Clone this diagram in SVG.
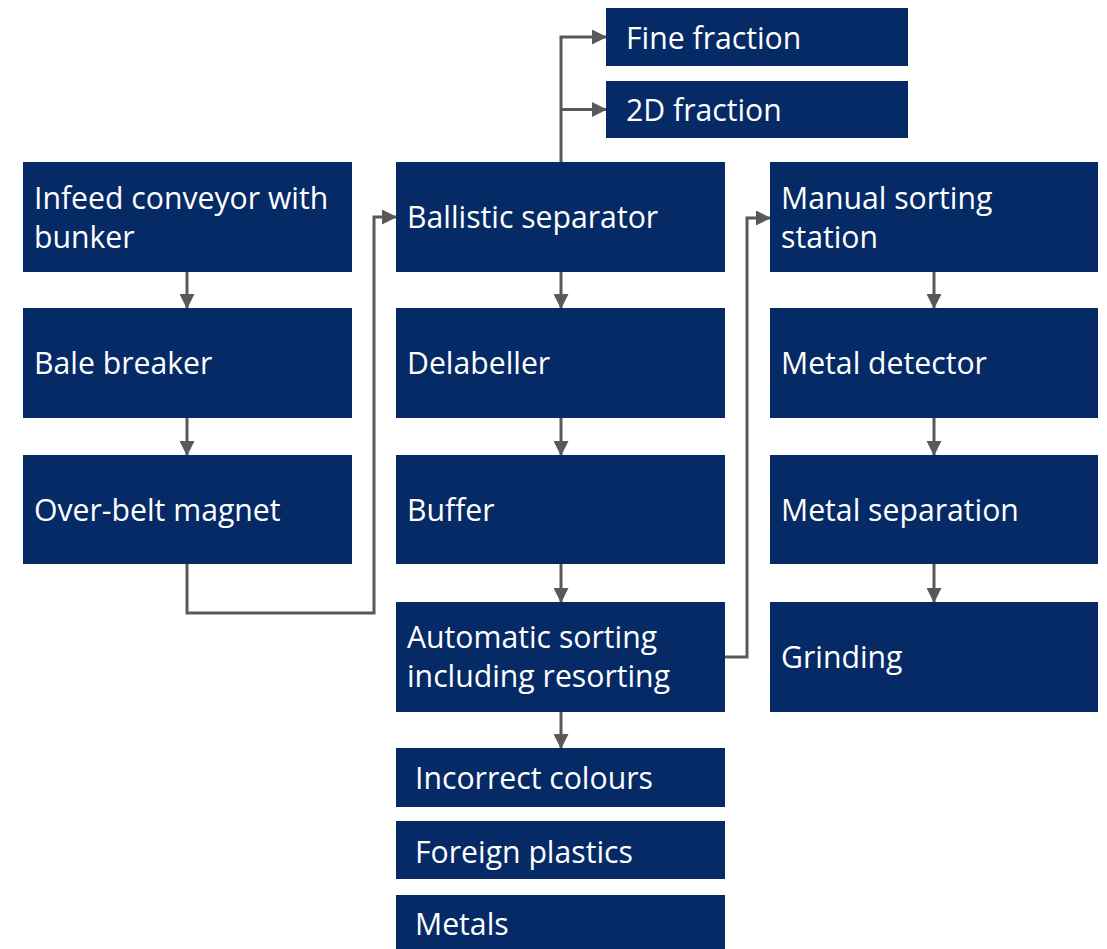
<svg xmlns="http://www.w3.org/2000/svg" width="1107" height="949" viewBox="0 0 1107 949">
<style>
.box{fill:#052A66}
.t{font-family:"Open Sans","Noto Sans","Liberation Sans",sans-serif;font-size:30.2px;fill:#FFFFFF}
.c{fill:none;stroke:#595959;stroke-width:3}
</style>
<defs>
<marker id="ah" markerUnits="userSpaceOnUse" markerWidth="15" markerHeight="15" refX="14" refY="7.5" orient="auto">
<path d="M0,0 L15,7.5 L0,15 Z" fill="#595959"/>
</marker>
</defs>
<rect width="1107" height="949" fill="#FFFFFF"/>
<g id="connectors">
<path class="c" d="M187,272 V308" marker-end="url(#ah)"/>
<path class="c" d="M187,418 V455" marker-end="url(#ah)"/>
<path class="c" d="M187,564 V613 H374 V217 H396" marker-end="url(#ah)"/>
<path class="c" d="M561,162 V37 H606" marker-end="url(#ah)"/>
<path class="c" d="M561,109.5 H606" marker-end="url(#ah)"/>
<path class="c" d="M561,272 V308" marker-end="url(#ah)"/>
<path class="c" d="M561,418 V455" marker-end="url(#ah)"/>
<path class="c" d="M561,564 V602" marker-end="url(#ah)"/>
<path class="c" d="M561,712 V748" marker-end="url(#ah)"/>
<path class="c" d="M725,657 H747 V218 H770" marker-end="url(#ah)"/>
<path class="c" d="M934,272 V308" marker-end="url(#ah)"/>
<path class="c" d="M934,418 V455" marker-end="url(#ah)"/>
<path class="c" d="M934,564 V602" marker-end="url(#ah)"/>
</g>
<g id="infeed"><rect class="box" x="23" y="162" width="329" height="110"/><text class="t" x="34" y="208.5">Infeed conveyor with</text><text class="t" x="34" y="247.5">bunker</text></g>
<g id="bale"><rect class="box" x="23" y="308" width="329" height="110"/><text class="t" x="34" y="374">Bale breaker</text></g>
<g id="magnet"><rect class="box" x="23" y="455" width="329" height="109"/><text class="t" x="34" y="521">Over-belt magnet</text></g>
<g id="fine"><rect class="box" x="606" y="8" width="302" height="58"/><text class="t" x="626" y="48.5">Fine fraction</text></g>
<g id="twod"><rect class="box" x="606" y="81" width="302" height="57"/><text class="t" x="626" y="121">2D fraction</text></g>
<g id="ballistic"><rect class="box" x="396" y="162" width="329" height="110"/><text class="t" x="407" y="228">Ballistic separator</text></g>
<g id="delabeller"><rect class="box" x="396" y="308" width="329" height="110"/><text class="t" x="407" y="374">Delabeller</text></g>
<g id="buffer"><rect class="box" x="396" y="455" width="329" height="109"/><text class="t" x="407" y="521">Buffer</text></g>
<g id="automatic"><rect class="box" x="396" y="602" width="329" height="110"/><text class="t" x="407" y="648">Automatic sorting</text><text class="t" x="407" y="687">including resorting</text></g>
<g id="colours"><rect class="box" x="396" y="748" width="329" height="59"/><text class="t" x="415" y="789">Incorrect colours</text></g>
<g id="plastics"><rect class="box" x="396" y="821" width="329" height="58"/><text class="t" x="415" y="863">Foreign plastics</text></g>
<g id="metals"><rect class="box" x="396" y="895" width="329" height="58"/><text class="t" x="415" y="935">Metals</text></g>
<g id="manual"><rect class="box" x="770" y="162" width="328" height="110"/><text class="t" x="781" y="208.5">Manual sorting</text><text class="t" x="781" y="247.5">station</text></g>
<g id="detector"><rect class="box" x="770" y="308" width="328" height="110"/><text class="t" x="781" y="374">Metal detector</text></g>
<g id="separation"><rect class="box" x="770" y="455" width="328" height="109"/><text class="t" x="781" y="521">Metal separation</text></g>
<g id="grinding"><rect class="box" x="770" y="602" width="328" height="110"/><text class="t" x="781" y="668">Grinding</text></g>
</svg>
